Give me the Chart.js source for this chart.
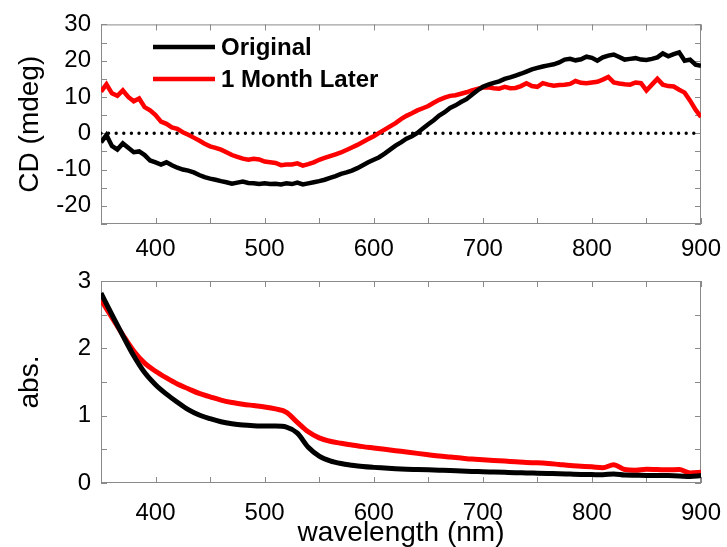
<!DOCTYPE html>
<html><head><meta charset="utf-8">
<script src="https://cdn.jsdelivr.net/npm/chart.js@4.4.0/dist/chart.umd.min.js"></script>
<style>
html,body{margin:0;padding:0;background:#fff;}
#w{position:relative;width:727px;height:547px;overflow:hidden;}
#c1{position:absolute;left:0;top:0;}
#c2{position:absolute;left:0;top:255px;}
</style></head><body>
<div id="w"><canvas id="c1" width="727" height="275"></canvas><canvas id="c2" width="727" height="292"></canvas></div>
<script>
// ---------- data ----------
const seriesNames = ['Original', '1 Month Later'];
const seriesColors = ['#000000', '#ff0000'];

const cdWavelength = [350,355,360,365,370,375,380,385,390,395,400,405,410,415,420,425,430,435,440,445,450,455,460,465,470,475,480,485,490,495,500,505,510,515,520,525,530,535,540,545,550,555,560,565,570,575,580,585,590,595,600,605,610,615,620,625,630,635,640,645,650,655,660,665,670,675,680,685,690,695,700,705,710,715,720,725,730,735,740,745,750,755,760,765,770,775,780,785,790,795,800,805,810,815,820,825,830,835,840,845,850,855,860,865,870,875,880,885,890,895,900];
const cdOriginal = [-2.5,-0.5,-3.5,-4.5,-2.8,-4.0,-5.2,-5.0,-6.0,-7.5,-8.0,-8.6,-8.0,-8.8,-9.5,-10.0,-10.3,-10.8,-11.5,-12.1,-12.5,-12.8,-13.2,-13.5,-13.9,-13.6,-13.3,-13.7,-13.8,-14.0,-13.8,-14.0,-13.9,-14.1,-13.8,-14.0,-13.6,-14.1,-13.8,-13.5,-13.2,-12.8,-12.3,-11.8,-11.2,-10.8,-10.3,-9.6,-8.8,-8.0,-7.3,-6.6,-5.6,-4.5,-3.4,-2.5,-1.5,-0.8,0.1,1.3,2.5,3.6,4.9,5.8,7.0,7.7,8.6,9.4,10.6,11.8,12.8,13.4,13.9,14.3,15.0,15.4,15.9,16.4,17.0,17.6,18.0,18.4,18.7,19.0,19.5,20.3,20.5,20.1,20.4,21.1,20.8,20.0,20.9,21.4,21.7,21.0,20.3,20.5,20.7,20.3,20.2,20.5,20.9,22.0,21.2,21.8,22.3,20.0,20.3,18.9,18.6];
const cdMonthLater = [11.5,13.5,11.0,10.3,11.8,10.0,8.8,9.6,7.2,6.3,5.0,3.2,2.6,1.6,1.2,0.3,-0.4,-1.2,-2.0,-2.9,-3.6,-4.0,-4.5,-5.2,-6.0,-6.5,-7.0,-7.3,-7.0,-7.2,-7.8,-8.0,-8.2,-8.8,-8.6,-8.6,-8.3,-8.9,-8.5,-8.0,-7.3,-6.8,-6.3,-5.8,-5.3,-4.6,-3.9,-3.2,-2.4,-1.6,-0.8,0.1,1.0,1.9,2.8,3.9,4.8,5.5,6.3,6.9,7.5,8.4,9.2,9.8,10.3,10.5,10.9,11.3,11.8,12.2,12.6,12.7,12.4,12.3,12.8,12.4,12.5,13.0,13.8,13.0,12.8,13.8,13.4,13.1,13.3,13.4,13.6,14.4,13.9,13.8,14.0,14.2,14.8,15.5,14.0,13.7,13.5,13.4,14.0,13.8,11.8,13.4,15.0,13.4,13.0,12.9,12.0,11.2,9.0,6.5,4.5];
const zeroLineX = [350, 900];
const zeroLineY = [0, 0];

const absWavelength = [350,360,370,380,390,400,410,420,430,440,450,460,470,480,490,500,510,520,530,540,550,560,570,580,590,600,610,620,630,640,650,660,670,680,690,700,710,720,730,740,750,760,770,780,790,800,810,820,830,840,850,860,870,880,890,900];
const absOriginal = [2.82,2.50,2.19,1.89,1.64,1.46,1.32,1.20,1.09,1.01,0.955,0.91,0.88,0.86,0.85,0.845,0.845,0.83,0.74,0.53,0.40,0.33,0.29,0.265,0.245,0.232,0.222,0.212,0.205,0.20,0.195,0.19,0.185,0.178,0.172,0.168,0.163,0.158,0.153,0.15,0.146,0.142,0.138,0.133,0.128,0.125,0.122,0.135,0.118,0.115,0.113,0.113,0.11,0.105,0.098,0.11];
const absMonthLater = [2.72,2.46,2.20,1.96,1.78,1.66,1.56,1.47,1.40,1.33,1.28,1.23,1.195,1.17,1.15,1.13,1.10,1.05,0.90,0.76,0.67,0.62,0.59,0.565,0.54,0.52,0.50,0.48,0.46,0.44,0.42,0.40,0.385,0.37,0.355,0.345,0.335,0.325,0.315,0.305,0.30,0.29,0.275,0.26,0.25,0.24,0.228,0.27,0.20,0.19,0.205,0.20,0.195,0.2,0.15,0.16];

const xRange = [350, 900];
const cdRange = [-25, 30];
const absRange = [0, 3];

// ---------- helpers ----------
const FONT = "'Liberation Sans', Arial, sans-serif";
const pts = (xs, ys) => xs.map((x, i) => ({x: x, y: ys[i]}));

const framePlugin = {
  id: 'frame',
  beforeDatasetsDraw(chart) {
    const {ctx, chartArea: a, scales: {x, y}} = chart;
    const TL = 6;
    ctx.save();
    ctx.strokeStyle = '#8a8a8a';
    ctx.lineWidth = 1;
    ctx.strokeRect(a.left + 0.5, a.top + 0.5, a.right - a.left - 1, a.bottom - a.top - 1);
    ctx.beginPath();
    x.ticks.forEach(t => {
      const px = Math.round(x.getPixelForValue(t.value)) + 0.5;
      ctx.moveTo(px, a.bottom); ctx.lineTo(px, a.bottom - TL);
      ctx.moveTo(px, a.top); ctx.lineTo(px, a.top + TL);
    });
    y.ticks.forEach(t => {
      const py = Math.round(y.getPixelForValue(t.value)) + 0.5;
      ctx.moveTo(a.left, py); ctx.lineTo(a.left + TL, py);
      ctx.moveTo(a.right, py); ctx.lineTo(a.right - TL, py);
    });
    ctx.stroke();
    ctx.restore();
  }
};

const legendPlugin = {
  id: 'customLegend',
  afterDatasetsDraw(chart) {
    const ctx = chart.ctx;
    ctx.save();
    ctx.font = "bold 24px " + FONT;
    ctx.textBaseline = 'middle';
    ctx.textAlign = 'left';
    const rows = [47, 79];
    seriesNames.forEach((n, i) => {
      ctx.strokeStyle = seriesColors[i];
      ctx.lineWidth = 4.5;
      ctx.lineCap = 'butt';
      ctx.beginPath(); ctx.moveTo(153, rows[i]); ctx.lineTo(215, rows[i]); ctx.stroke();
      ctx.fillStyle = '#000';
      ctx.fillText(n, 221, rows[i] + 1);
    });
    ctx.restore();
  }
};

function xAxis(h, pad, title) {
  const o = {
    type: 'linear', min: xRange[0], max: xRange[1],
    grid: {display: false, drawTicks: false},
    border: {display: false},
    ticks: {stepSize: 50, autoSkip: false, maxRotation: 0, padding: pad, color: '#000',
            font: {family: FONT, size: 24},
            callback: v => (v % 100 === 0 ? String(v) : '')},
    afterFit(s) { s.height = h; s.paddingLeft = 0; s.paddingRight = 0; }
  };
  if (title) {
    o.title = {display: true, text: title, color: '#000',
               font: {family: FONT, size: 28, lineHeight: 1}, padding: {top: 0, bottom: 0}};
  }
  return o;
}

// ---------- top: CD ----------
new Chart(document.getElementById('c1'), {
  type: 'line',
  data: {
    datasets: [
      {label: seriesNames[0], data: pts(cdWavelength, cdOriginal), borderColor: seriesColors[0], borderWidth: 4.5, pointRadius: 0, tension: 0},
      {label: seriesNames[1], data: pts(cdWavelength, cdMonthLater), borderColor: seriesColors[1], borderWidth: 4.5, pointRadius: 0, tension: 0},
      {label: 'zero', data: pts(zeroLineX, zeroLineY), borderColor: '#000', borderWidth: 3.4, borderDash: [0, 7.6], borderCapStyle: 'round', pointRadius: 0}
    ]
  },
  options: {
    responsive: false, animation: false,
    layout: {padding: {top: 22, right: 26, left: 0, bottom: 0}},
    plugins: {legend: {display: false}, tooltip: {enabled: false}},
    scales: {
      x: xAxis(51, 11, null),
      y: {
        min: cdRange[0], max: cdRange[1],
        grid: {display: false, drawTicks: false},
        border: {display: false},
        ticks: {stepSize: 5, autoSkip: false, padding: 10, color: '#000', font: {family: FONT, size: 24},
                callback: v => (v % 10 === 0 ? String(v) : '')},
        title: {display: true, text: 'CD (mdeg)', color: '#000', font: {family: FONT, size: 28, lineHeight: 1.2}, padding: {top: 13, bottom: 0}},
        afterFit(s) { s.width = 101; }
      }
    }
  },
  plugins: [framePlugin, legendPlugin]
});

// ---------- bottom: absorbance ----------
new Chart(document.getElementById('c2'), {
  type: 'line',
  data: {
    datasets: [
      {label: seriesNames[0], data: pts(absWavelength, absOriginal), borderColor: seriesColors[0], borderWidth: 5, pointRadius: 0, cubicInterpolationMode: 'monotone'},
      {label: seriesNames[1], data: pts(absWavelength, absMonthLater), borderColor: seriesColors[1], borderWidth: 5, pointRadius: 0, cubicInterpolationMode: 'monotone'}
    ]
  },
  options: {
    responsive: false, animation: false,
    layout: {padding: {top: 26, right: 26, left: 0, bottom: 0}},
    plugins: {legend: {display: false}, tooltip: {enabled: false}},
    scales: {
      x: xAxis(64, 16, 'wavelength (nm)'),
      y: {
        min: absRange[0], max: absRange[1],
        grid: {display: false, drawTicks: false},
        border: {display: false},
        ticks: {stepSize: 0.5, autoSkip: false, padding: 10, color: '#000', font: {family: FONT, size: 24},
                callback: v => (Number.isInteger(v) ? String(v) : '')},
        title: {display: true, text: 'abs.', color: '#000', font: {family: FONT, size: 28, lineHeight: 1.2}, padding: {top: 13, bottom: 0}},
        afterFit(s) { s.width = 101; }
      }
    }
  },
  plugins: [framePlugin]
});
</script>
</body></html>
